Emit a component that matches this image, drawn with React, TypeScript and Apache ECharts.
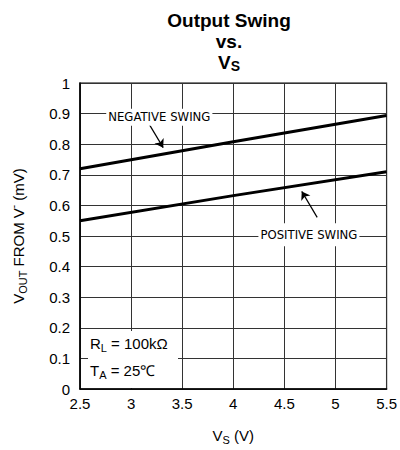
import React, { useEffect, useRef } from "react";
import * as echarts from "echarts";

// Data
const xValues = [2.5, 4, 5.5];
const negativeSwing = [0.72, 0.808, 0.894];
const positiveSwing = [0.55, 0.632, 0.71];

// Axis ranges
const xMin = 2.5;
const xMax = 5.5;
const xStep = 0.5;
const yMin = 0;
const yMax = 1;
const yStep = 0.1;

// Annotation anchors (data coordinates)
const negLabelAt = [3.276, 0.8877];
const posLabelAt = [4.74, 0.5042];
const negArrow = [[3.172, 0.868], [3.314, 0.7888]];
const posArrow = [[4.821, 0.561], [4.67, 0.6458]];

const FONT = "'Liberation Sans', Arial, sans-serif";
const ANN_FONT = "'DejaVu Sans', sans-serif";

export default function App() {
  const ref = useRef<HTMLDivElement>(null);

  useEffect(() => {
    document.body.style.margin = "0";
    const chart = echarts.init(ref.current!, null, { renderer: "svg" });

    const annLabel = (padding: number[]) => ({
      show: true,
      position: "inside",
      formatter: "{b}",
      color: "#000",
      fontFamily: ANN_FONT,
      fontSize: 11.7,
      lineHeight: 14,
      backgroundColor: "#fff",
      padding,
    });

    const arrow = (pts: number[][]) => ({
      silent: true,
      symbol: ["none", "arrow"],
      symbolSize: 8,
      label: { show: false },
      lineStyle: { color: "#000", width: 1.2, type: "solid" },
      emphasis: { disabled: true },
      data: [[{ coord: pts[0] }, { coord: pts[1] }]],
    });

    chart.setOption({
      animation: false,
      grid: {
        left: 80,
        right: 11,
        top: 83,
        bottom: 58,
        show: true,
        borderColor: "#000",
        borderWidth: 1.2,
      },
      xAxis: {
        type: "value",
        min: xMin,
        max: xMax,
        interval: xStep,
        axisLine: { show: true, lineStyle: { color: "#000", width: 1.5 } },
        axisTick: { show: false },
        axisLabel: { color: "#000", fontFamily: FONT, fontSize: 15, margin: 7 },
        splitLine: { show: true, lineStyle: { color: "#333", width: 1 } },
        name: "{a|V}{sub|S}{a| (V)}",
        nameLocation: "middle",
        nameGap: 36,
        nameTextStyle: {
          rich: {
            a: { fontFamily: FONT, fontSize: 15, color: "#000", lineHeight: 20 },
            sub: { fontFamily: FONT, fontSize: 11, color: "#000", lineHeight: 11, verticalAlign: "bottom" },
          },
        },
      },
      yAxis: {
        type: "value",
        min: yMin,
        max: yMax,
        interval: yStep,
        axisLine: { show: true, lineStyle: { color: "#000", width: 1.5 } },
        axisTick: { show: false },
        axisLabel: { color: "#000", fontFamily: FONT, fontSize: 15, margin: 10 },
        splitLine: { show: true, lineStyle: { color: "#333", width: 1 } },
        name: "{a|V}{sub|OUT}{a| FROM V}{sup|-}{a| (mV)}",
        nameLocation: "middle",
        nameGap: 52,
        nameTextStyle: {
          rich: {
            a: { fontFamily: FONT, fontSize: 15, color: "#000", lineHeight: 20 },
            sub: { fontFamily: FONT, fontSize: 11, color: "#000", lineHeight: 11, verticalAlign: "bottom" },
            sup: { fontFamily: FONT, fontSize: 10, color: "#000", lineHeight: 10, verticalAlign: "top" },
          },
        },
      },
      series: [
        {
          type: "line",
          name: "Negative swing",
          data: xValues.map((x, i) => [x, negativeSwing[i]]),
          symbol: "none",
          lineStyle: { color: "#000", width: 3 },
          z: 5,
          markPoint: {
            symbol: "circle",
            symbolSize: 0,
            silent: true,
            label: annLabel([0, 2, 3, 2]),
            data: [{ name: "NEGATIVE SWING", coord: negLabelAt }],
          },
          markLine: arrow(negArrow),
        },
        {
          type: "line",
          name: "Positive swing",
          data: xValues.map((x, i) => [x, positiveSwing[i]]),
          symbol: "none",
          lineStyle: { color: "#000", width: 3 },
          z: 5,
          markPoint: {
            symbol: "circle",
            symbolSize: 0,
            silent: true,
            label: annLabel([0, 2, 9, 2]),
            data: [{ name: "POSITIVE SWING", coord: posLabelAt }],
          },
          markLine: arrow(posArrow),
        },
      ],
      graphic: [
        {
          type: "text",
          x: 229,
          y: 10,
          z: 10,
          style: {
            text: "{b|Output Swing}\n{b|vs.}\n{b|V}{bs|S}",
            align: "center",
            rich: {
              b: { fontFamily: FONT, fontWeight: "bold", fontSize: 19, lineHeight: 21, fill: "#000" },
              bs: { fontFamily: FONT, fontWeight: "bold", fontSize: 14, lineHeight: 14, fill: "#000", verticalAlign: "bottom" },
            },
          },
        },
        {
          type: "rect",
          z: 10,
          shape: { x: 88, y: 331, width: 90, height: 57 },
          style: { fill: "#fff" },
        },
        {
          type: "text",
          x: 90,
          y: 333,
          z: 11,
          style: {
            text: "{a|R}{s|L}{a| = 100kΩ}",
            rich: {
              a: { fontFamily: FONT, fontSize: 15, lineHeight: 20, fill: "#000" },
              s: { fontFamily: FONT, fontSize: 11, lineHeight: 11, fill: "#000", verticalAlign: "bottom" },
            },
          },
        },
        {
          type: "text",
          x: 90,
          y: 360,
          z: 11,
          style: {
            text: "{a|T}{s|A}{a| = 25℃}",
            rich: {
              a: { fontFamily: FONT, fontSize: 15, lineHeight: 20, fill: "#000" },
              s: { fontFamily: FONT, fontSize: 11, lineHeight: 11, fill: "#000", verticalAlign: "bottom" },
            },
          },
        },
      ],
    });

    return () => chart.dispose();
  }, []);

  return <div ref={ref} style={{ width: 400, height: 450 }} />;
}
